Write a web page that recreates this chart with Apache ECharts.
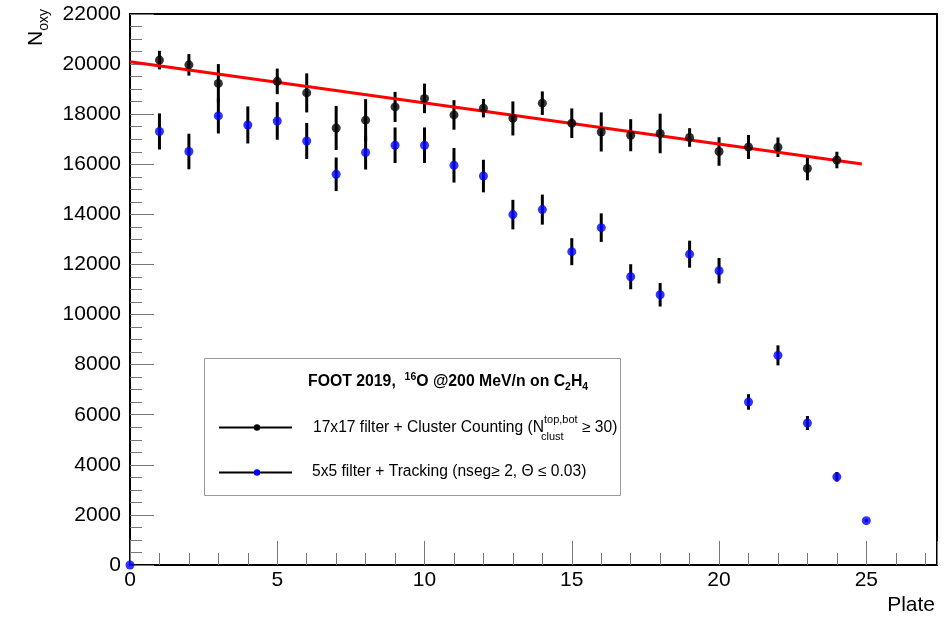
<!DOCTYPE html>
<html>
<head>
<meta charset="utf-8">
<script src="https://cdn.jsdelivr.net/npm/echarts@6/dist/echarts.min.js"></script>
<style>
  html, body { margin: 0; padding: 0; background: #fff; }
  #chart { width: 948px; height: 620px; }
</style>
</head>
<body>
<div id="chart"></div>
<script>
// 17x17 filter + cluster counting
const countPlates = [1, 2, 3, 5, 6, 7, 8, 9, 10, 11, 12, 13, 14, 15, 16, 17, 18, 19, 20, 21, 22, 23, 24]
const countValues = [20160, 19970, 19230, 19310, 18850, 17450, 17760, 18290, 18630, 17970, 18240, 17830, 18440, 17640, 17290, 17160, 17230, 17070, 16510, 16690, 16680, 15830, 16170]
const countErrors = [370, 430, 770, 510, 780, 880, 840, 600, 590, 590, 370, 680, 470, 590, 780, 640, 790, 370, 570, 480, 390, 470, 330]

// 5x5 filter + tracking
const trackPlates = [0, 1, 2, 3, 4, 5, 6, 7, 8, 9, 10, 11, 12, 13, 14, 15, 16, 17, 18, 19, 20, 21, 22, 23, 24, 25]
const trackValues = [0, 17310, 16510, 17930, 17570, 17730, 16930, 15600, 16470, 16760, 16760, 15960, 15530, 13990, 14190, 12510, 13470, 11510, 10790, 12410, 11750, 6510, 8370, 5670, 3520, 1770]
const trackErrors = [0, 720, 710, 700, 740, 750, 720, 670, 680, 710, 710, 690, 650, 590, 600, 540, 570, 500, 470, 540, 510, 310, 400, 280, 190, 60]

// linear fit of the cluster counting points (end points)
const fitLine = [[0, 20090], [24.85, 16010]]

const FONT = "'Liberation Sans', Arial, Helvetica, sans-serif"

var chartDom = document.getElementById("chart")
var myChart = echarts.init(chartDom)

// text width helper, used to place sub/superscripts
const measureCtx = document.createElement("canvas").getContext("2d")
function textW(s, size, bold) {
  measureCtx.font = (bold ? "bold " : "") + size + "px " + FONT
  return measureCtx.measureText(s).width
}

// lay a run of text pieces left to right; piece: {t, size, bold, dy} or {sup, sub, size, dyUp, dyDown}
function textRun(x, y, pieces) {
  const els = []
  pieces.forEach((p) => {
    if (p.t !== undefined) {
      els.push({
        type: "text", x: x, y: y + (p.dy || 0), silent: true,
        style: { text: p.t, fontSize: p.size, fontWeight: p.bold ? "bold" : "normal", fontFamily: FONT, fill: "#000", align: "left", verticalAlign: "middle" },
      })
      x += textW(p.t, p.size, p.bold)
    } else {
      els.push({
        type: "text", x: x, y: y + p.dyUp, silent: true,
        style: { text: p.sup, fontSize: p.size, fontFamily: FONT, fill: "#000", align: "left", verticalAlign: "middle" },
      })
      els.push({
        type: "text", x: x - 3, y: y + p.dyDown, silent: true,
        style: { text: p.sub, fontSize: p.size, fontFamily: FONT, fill: "#000", align: "left", verticalAlign: "middle" },
      })
      x += Math.max(textW(p.sup, p.size), textW(p.sub, p.size) - 3)
    }
  })
  return els
}

function errorBars(plates, values, errors) {
  return {
    type: "custom",
    silent: true,
    clip: false,
    z: 2,
    data: plates.map((p, i) => [p, values[i] - errors[i], values[i] + errors[i]]),
    encode: { x: 0, y: [1, 2] },
    renderItem: (params, api) => {
      const lo = api.coord([api.value(0), api.value(1)])
      const hi = api.coord([api.value(0), api.value(2)])
      return {
        type: "line",
        shape: { x1: lo[0], y1: lo[1], x2: hi[0], y2: hi[1] },
        style: { stroke: "#000", lineWidth: 3 },
      }
    },
  }
}

// legend box, drawn by hand like the ROOT TLegend
const legendEls = [
  { type: "rect", shape: { x: 204.5, y: 358.5, width: 416, height: 137 }, style: { fill: "#fff", stroke: "#999", lineWidth: 1 }, z: 10 },
  { type: "line", shape: { x1: 219, y1: 427.5, x2: 292, y2: 427.5 }, style: { stroke: "#000", lineWidth: 2 }, z: 11 },
  { type: "circle", shape: { cx: 257, cy: 427.5, r: 3.2 }, style: { fill: "#000" }, z: 12 },
  { type: "line", shape: { x1: 219, y1: 472.5, x2: 292, y2: 472.5 }, style: { stroke: "#000", lineWidth: 2 }, z: 11 },
  { type: "circle", shape: { cx: 257, cy: 472.5, r: 3.2 }, style: { fill: "#0000ff" }, z: 12 },
]
  .concat(textRun(308, 382, [
    { t: "FOOT 2019,  ", size: 15.8, bold: true },
    { t: "16", size: 10.5, bold: true, dy: -5 },
    { t: "O @200 MeV/n on C", size: 15.8, bold: true },
    { t: "2", size: 10.5, bold: true, dy: 5 },
    { t: "H", size: 15.8, bold: true },
    { t: "4", size: 10.5, bold: true, dy: 5 },
  ]))
  .concat(textRun(313, 428, [
    { t: "17x17 filter + Cluster Counting (N", size: 15.6 },
    { sup: "top,bot", sub: "clust", size: 11, dyUp: -8, dyDown: 9 },
    { t: " \u2265 30)", size: 15.6 },
  ]))
  .concat(textRun(312, 472, [
    { t: "5x5 filter + Tracking (nseg\u2265 2, \u0398 \u2264 0.03)", size: 15.6 },
  ]))
legendEls.forEach((e) => { if (e.type === "text") e.z = 12 })

// y axis title N_oxy, rotated
const yTitle = {
  type: "group", x: 36, y: 46, rotation: Math.PI / 2, silent: true,
  children: [
    { type: "text", x: 0, y: 0, style: { text: "N", fontSize: 21, fontFamily: FONT, fill: "#000", align: "left", verticalAlign: "middle" } },
    { type: "text", x: textW("N", 21), y: 8, style: { text: "oxy", fontSize: 14, fontFamily: FONT, fill: "#000", align: "left", verticalAlign: "middle" } },
  ],
}

var option = {
  animation: false,
  backgroundColor: "#fff",
  grid: {
    left: 130, right: 11, top: 14, bottom: 55,
    show: true, borderColor: "#000", borderWidth: 2,
  },
  xAxis: [
    {
      type: "value", min: 0, max: 27.4, interval: 5, position: "bottom",
      axisLine: { lineStyle: { color: "#000", width: 2 } },
      axisTick: { inside: true, length: 24, lineStyle: { color: "#777", width: 1 } },
      axisLabel: {
        color: "#000", fontSize: 21, fontFamily: FONT, margin: 5,
        formatter: (v) => (v % 5 === 0 ? String(v) : ""),
      },
      splitLine: { show: false },
    },
    {
      type: "value", min: 0, max: 27.4, interval: 1, position: "bottom",
      axisLine: { show: false },
      axisTick: { inside: true, length: 12, lineStyle: { color: "#777", width: 1 } },
      axisLabel: { show: false },
      splitLine: { show: false },
    },
  ],
  yAxis: {
    type: "value", min: 0, max: 22000, interval: 2000,
    axisLine: { show: true, lineStyle: { color: "#000", width: 2 } },
    axisTick: { show: true, inside: true, length: 24, lineStyle: { color: "#777", width: 1 } },
    minorTick: { show: true, splitNumber: 4, length: 12, lineStyle: { color: "#777", width: 1 } },
    axisLabel: { color: "#000", fontSize: 21, fontFamily: FONT, margin: 9, formatter: (v) => String(v) },
    splitLine: { show: false },
  },
  graphic: [
    yTitle,
    { type: "text", x: 935, y: 605, silent: true, style: { text: "Plate", fontSize: 21, fontFamily: FONT, fill: "#000", align: "right", verticalAlign: "middle" } },
  ].concat(legendEls),
  series: [
    errorBars(countPlates, countValues, countErrors),
    errorBars(trackPlates, trackValues, trackErrors),
    {
      type: "line",
      data: fitLine,
      showSymbol: false,
      silent: true,
      z: 3,
      lineStyle: { color: "#ff0000", width: 3 },
    },
    {
      type: "scatter",
      data: countPlates.map((p, i) => [p, countValues[i]]),
      symbol: "circle",
      symbolSize: 9,
      itemStyle: { color: "#000" },
      z: 4,
      clip: false,
    },
    {
      type: "scatter",
      data: trackPlates.map((p, i) => [p, trackValues[i]]),
      symbol: "circle",
      symbolSize: 9,
      itemStyle: { color: "#0000ff" },
      z: 4,
      clip: false,
    },
  ],
}

option && myChart.setOption(option)

window.addEventListener("resize", () => {
  myChart.resize()
})
</script>
</body>
</html>
